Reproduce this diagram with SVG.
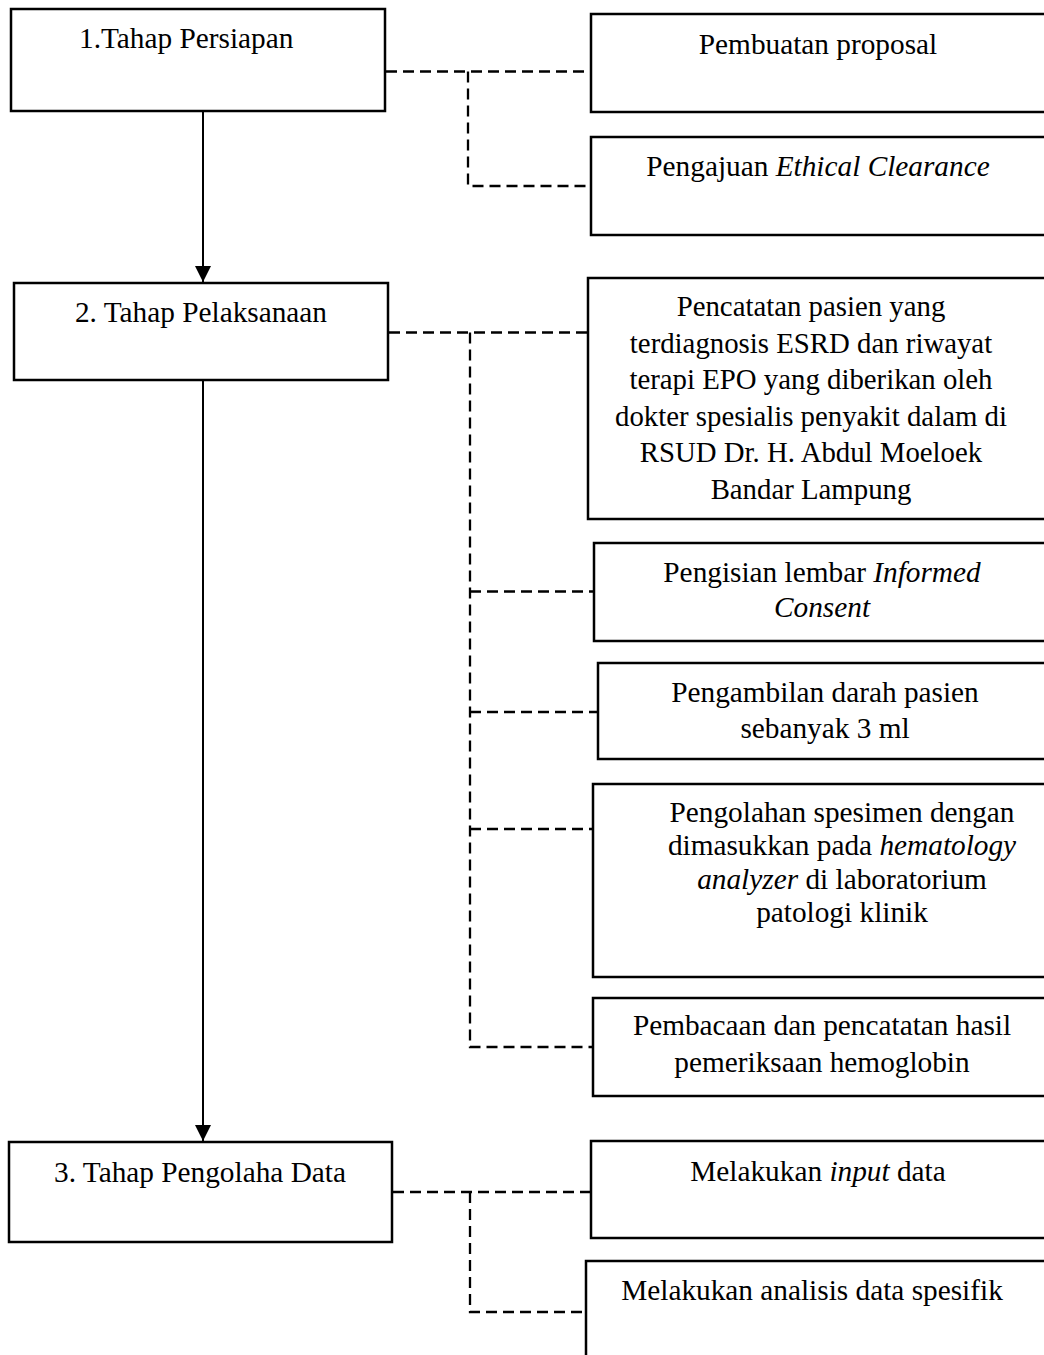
<svg xmlns="http://www.w3.org/2000/svg" width="1044" height="1355" viewBox="0 0 1044 1355">
<style>
.box{fill:#fff;stroke:#000;stroke-width:2.5}
.t{font-family:"Liberation Serif","Times New Roman",serif;font-size:29.3px;fill:#000}
.s{font-size:28.8px}
.c{text-anchor:middle}
.i{font-style:italic}
.dash{fill:none;stroke:#000;stroke-width:2.3;stroke-dasharray:11 6}
.solid{fill:none;stroke:#000;stroke-width:2}
</style>
<defs>
<marker id="arrow" viewBox="0 0 16 16" refX="16" refY="8" markerWidth="16" markerHeight="16" markerUnits="userSpaceOnUse" orient="auto">
<path d="M0,0 L16,8 L0,16 z" fill="#000"/>
</marker>
</defs>
<rect width="1044" height="1355" fill="#fff"/>

<g id="connectors">
<path class="dash" d="M386,71.5 H591"/>
<path class="dash" d="M468,71.5 V186 H591"/>
<path class="dash" d="M389,332.5 H588"/>
<path class="dash" d="M470,332.5 V1047 H593"/>
<path class="dash" d="M470,591.5 H594"/>
<path class="dash" d="M470,712 H598"/>
<path class="dash" d="M470,829 H593"/>
<path class="dash" d="M393,1192 H591"/>
<path class="dash" d="M470,1192 V1312 H586"/>
<path class="solid" d="M203,111 V282" marker-end="url(#arrow)"/>
<path class="solid" d="M203,381 V1141" marker-end="url(#arrow)"/>
</g>

<g id="n1">
<rect class="box" x="11" y="9" width="374" height="102"/>
<text class="t" x="79" y="48">1.Tahap Persiapan</text>
</g>
<g id="n1a">
<rect class="box" x="591" y="14" width="470" height="98"/>
<text class="t c" x="818" y="54">Pembuatan proposal</text>
</g>
<g id="n1b">
<rect class="box" x="591" y="137" width="470" height="98"/>
<text class="t c" x="818" y="176">Pengajuan <tspan class="i">Ethical Clearance</tspan></text>
</g>

<g id="n2">
<rect class="box" x="14" y="283" width="374" height="97"/>
<text class="t c" x="201" y="322">2. Tahap Pelaksanaan</text>
</g>
<g id="n2a">
<rect class="box" x="588" y="278" width="470" height="241"/>
<text class="t s c" x="811" y="316">Pencatatan pasien yang</text>
<text class="t s c" x="811" y="352.5">terdiagnosis ESRD dan riwayat</text>
<text class="t s c" x="811" y="389">terapi EPO yang diberikan oleh</text>
<text class="t s c" x="811" y="425.5">dokter spesialis penyakit dalam di</text>
<text class="t s c" x="811" y="462">RSUD Dr. H. Abdul Moeloek</text>
<text class="t s c" x="811" y="498.5">Bandar Lampung</text>
</g>
<g id="n2b">
<rect class="box" x="594" y="543" width="470" height="98"/>
<text class="t c" x="822" y="582">Pengisian lembar <tspan class="i">Informed</tspan></text>
<text class="t c i" x="822" y="617">Consent</text>
</g>
<g id="n2c">
<rect class="box" x="598" y="663" width="470" height="96"/>
<text class="t c" x="825" y="702">Pengambilan darah pasien</text>
<text class="t c" x="825" y="738">sebanyak 3 ml</text>
</g>
<g id="n2d">
<rect class="box" x="593" y="784" width="470" height="193"/>
<text class="t c" x="842" y="822">Pengolahan spesimen dengan</text>
<text class="t c" x="842" y="855">dimasukkan pada <tspan class="i">hematology</tspan></text>
<text class="t c" x="842" y="889"><tspan class="i">analyzer</tspan> di laboratorium</text>
<text class="t c" x="842" y="922">patologi klinik</text>
</g>
<g id="n2e">
<rect class="box" x="593" y="998" width="470" height="98"/>
<text class="t c" x="822" y="1035">Pembacaan dan pencatatan hasil</text>
<text class="t c" x="822" y="1072">pemeriksaan hemoglobin</text>
</g>

<g id="n3">
<rect class="box" x="9" y="1142" width="383" height="100"/>
<text class="t c" x="200" y="1182">3. Tahap Pengolaha Data</text>
</g>
<g id="n3a">
<rect class="box" x="591" y="1141" width="470" height="97"/>
<text class="t c" x="818" y="1181">Melakukan <tspan class="i">input</tspan> data</text>
</g>
<g id="n3b">
<rect class="box" x="586" y="1261" width="470" height="120"/>
<text class="t c" x="812" y="1300">Melakukan analisis data spesifik</text>
</g>
</svg>
